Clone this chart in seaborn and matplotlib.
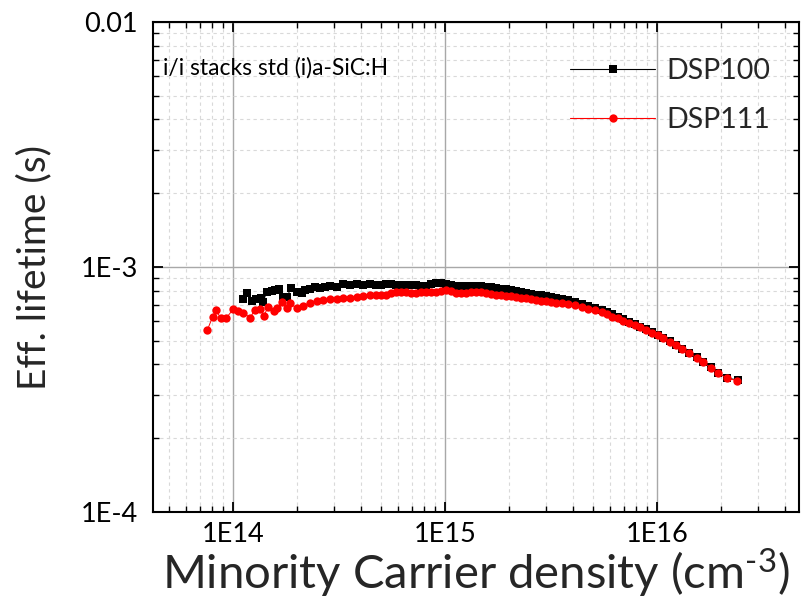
import matplotlib
matplotlib.use("Agg")
import matplotlib.pyplot as plt
import matplotlib.ticker as mticker
import seaborn as sns
import pandas as pd

# Minority carrier density (cm^-3) and effective lifetime (s) for each sample
dsp100_density = [
    1.111e14, 1.168e14, 1.225e14, 1.284e14, 1.351e14, 1.390e14, 1.442e14, 1.522e14,
    1.578e14, 1.648e14, 1.727e14, 1.804e14, 1.871e14, 1.998e14, 2.109e14, 2.186e14,
    2.307e14, 2.437e14, 2.573e14, 2.716e14, 2.868e14, 3.084e14, 3.314e14, 3.564e14,
    3.832e14, 4.118e14, 4.429e14, 4.726e14, 4.990e14, 5.270e14, 5.565e14, 5.875e14,
    6.200e14, 6.550e14, 6.910e14, 7.300e14, 7.710e14, 8.140e14, 8.590e14, 9.070e14,
    9.570e14, 1.011e15, 1.067e15, 1.127e15, 1.190e15, 1.256e15, 1.326e15, 1.400e15,
    1.479e15, 1.561e15, 1.648e15, 1.740e15, 1.837e15, 1.940e15, 2.048e15, 2.162e15,
    2.283e15, 2.410e15, 2.545e15, 2.687e15, 2.837e15, 2.995e15, 3.162e15, 3.339e15,
    3.564e15, 3.804e15, 4.105e15, 4.414e15, 4.742e15, 5.099e15, 5.485e15, 5.790e15,
    6.153e15, 6.568e15, 6.934e15, 7.378e15, 7.875e15, 8.314e15, 8.843e15, 9.441e15,
    1.008e16, 1.071e16, 1.152e16, 1.229e16, 1.316e16, 1.420e16, 1.539e16, 1.653e16,
    1.797e16, 1.946e16, 2.146e16, 2.403e16,
]
dsp100_lifetime = [
    7.40e-4, 7.81e-4, 7.27e-4, 7.40e-4, 7.49e-4, 7.22e-4, 7.93e-4, 7.98e-4,
    8.06e-4, 8.13e-4, 7.57e-4, 7.57e-4, 8.19e-4, 7.93e-4, 7.81e-4, 8.06e-4,
    8.13e-4, 8.26e-4, 8.19e-4, 8.31e-4, 8.39e-4, 8.31e-4, 8.50e-4, 8.44e-4,
    8.50e-4, 8.44e-4, 8.50e-4, 8.41e-4, 8.41e-4, 8.50e-4, 8.52e-4, 8.48e-4,
    8.44e-4, 8.44e-4, 8.42e-4, 8.41e-4, 8.37e-4, 8.37e-4, 8.52e-4, 8.64e-4,
    8.58e-4, 8.50e-4, 8.41e-4, 8.33e-4, 8.33e-4, 8.35e-4, 8.37e-4, 8.38e-4,
    8.35e-4, 8.30e-4, 8.26e-4, 8.21e-4, 8.15e-4, 8.10e-4, 8.03e-4, 7.97e-4,
    7.91e-4, 7.85e-4, 7.79e-4, 7.72e-4, 7.66e-4, 7.59e-4, 7.53e-4, 7.47e-4,
    7.39e-4, 7.30e-4, 7.18e-4, 7.06e-4, 6.94e-4, 6.82e-4, 6.68e-4, 6.55e-4,
    6.40e-4, 6.26e-4, 6.12e-4, 5.98e-4, 5.84e-4, 5.71e-4, 5.57e-4, 5.42e-4,
    5.28e-4, 5.13e-4, 4.97e-4, 4.81e-4, 4.64e-4, 4.46e-4, 4.28e-4, 4.10e-4,
    3.89e-4, 3.69e-4, 3.52e-4, 3.46e-4,
]

dsp111_density = [
    7.57e13, 8.02e13, 8.32e13, 8.75e13, 9.27e13, 1.003e14, 1.059e14, 1.118e14,
    1.203e14, 1.270e14, 1.341e14, 1.400e14, 1.467e14, 1.561e14, 1.618e14, 1.697e14,
    1.792e14, 1.857e14, 1.998e14, 2.146e14, 2.307e14, 2.482e14, 2.667e14, 2.868e14,
    3.084e14, 3.314e14, 3.564e14, 3.832e14, 4.118e14, 4.429e14, 4.726e14, 4.990e14,
    5.270e14, 5.565e14, 5.875e14, 6.200e14, 6.550e14, 6.910e14, 7.300e14, 7.710e14,
    8.140e14, 8.590e14, 9.070e14, 9.570e14, 1.011e15, 1.067e15, 1.127e15, 1.190e15,
    1.256e15, 1.326e15, 1.400e15, 1.479e15, 1.561e15, 1.648e15, 1.740e15, 1.837e15,
    1.940e15, 2.048e15, 2.162e15, 2.283e15, 2.410e15, 2.545e15, 2.687e15, 2.837e15,
    2.995e15, 3.162e15, 3.339e15, 3.564e15, 3.804e15, 4.105e15, 4.414e15, 4.742e15,
    5.099e15, 5.485e15, 5.790e15, 6.153e15, 6.568e15, 6.934e15, 7.378e15, 7.875e15,
    8.314e15, 8.843e15, 9.441e15, 1.008e16, 1.071e16, 1.152e16, 1.229e16, 1.316e16,
    1.420e16, 1.539e16, 1.653e16, 1.797e16, 1.946e16, 2.146e16, 2.376e16,
]
dsp111_lifetime = [
    5.53e-4, 6.27e-4, 6.68e-4, 6.18e-4, 6.18e-4, 6.72e-4, 6.61e-4, 6.51e-4,
    6.21e-4, 6.68e-4, 6.74e-4, 6.33e-4, 6.89e-4, 6.61e-4, 6.78e-4, 7.22e-4,
    6.78e-4, 7.11e-4, 6.78e-4, 6.95e-4, 7.15e-4, 7.27e-4, 7.33e-4, 7.38e-4,
    7.40e-4, 7.49e-4, 7.45e-4, 7.57e-4, 7.64e-4, 7.69e-4, 7.69e-4, 7.66e-4,
    7.70e-4, 7.80e-4, 7.89e-4, 7.93e-4, 7.87e-4, 7.82e-4, 7.85e-4, 7.91e-4,
    7.94e-4, 7.91e-4, 7.89e-4, 7.98e-4, 8.06e-4, 7.98e-4, 7.85e-4, 7.81e-4,
    7.85e-4, 7.91e-4, 7.93e-4, 7.87e-4, 7.80e-4, 7.74e-4, 7.70e-4, 7.67e-4,
    7.64e-4, 7.60e-4, 7.55e-4, 7.49e-4, 7.45e-4, 7.40e-4, 7.35e-4, 7.29e-4,
    7.24e-4, 7.20e-4, 7.16e-4, 7.10e-4, 7.04e-4, 6.97e-4, 6.87e-4, 6.77e-4,
    6.67e-4, 6.53e-4, 6.41e-4, 6.27e-4, 6.18e-4, 6.04e-4, 5.93e-4, 5.80e-4,
    5.67e-4, 5.53e-4, 5.39e-4, 5.28e-4, 5.12e-4, 4.96e-4, 4.80e-4, 4.63e-4,
    4.44e-4, 4.26e-4, 4.08e-4, 3.88e-4, 3.68e-4, 3.51e-4, 3.44e-4,
]

series_labels = ["DSP100", "DSP111"]
x_tick_values = [1e14, 1e15, 1e16]
x_tick_labels = ["1E14", "1E15", "1E16"]
y_tick_values = [1e-4, 1e-3, 1e-2]
y_tick_labels = ["1E-4", "1E-3", "0.01"]
sample_note = "i/i stacks std (i)a-SiC:H"

sns.set_style("white")
plt.rcParams["font.family"] = ["Lato", "DejaVu Sans"]
plt.rcParams["mathtext.fontset"] = "custom"
plt.rcParams["mathtext.rm"] = "Lato"
plt.rcParams["mathtext.it"] = "Lato:italic"

fig = plt.figure(figsize=(8.01, 6.13), dpi=100)
ax = fig.add_axes([153 / 801, 1 - 512 / 613, 646 / 801, 490 / 613])

df100 = pd.DataFrame({"n": dsp100_density, "tau": dsp100_lifetime})
df111 = pd.DataFrame({"n": dsp111_density, "tau": dsp111_lifetime})

sns.lineplot(data=df100, x="n", y="tau", ax=ax, sort=False, color="black",
             linewidth=0.7, marker="s", markersize=5.2, markeredgewidth=0,
             label=series_labels[0], zorder=3)
sns.lineplot(data=df111, x="n", y="tau", ax=ax, sort=False, color="#ff0000",
             linewidth=0.7, marker="o", markersize=6.0, markeredgewidth=0,
             label=series_labels[1], zorder=4)

ax.set_xscale("log")
ax.set_yscale("log")
ax.set_xlim(4.195e13, 4.675e16)
ax.set_ylim(1e-4, 1e-2)

ax.set_xticks(x_tick_values)
ax.set_xticklabels(x_tick_labels)
ax.set_yticks(y_tick_values)
ax.set_yticklabels(y_tick_labels)
ax.xaxis.set_minor_locator(mticker.LogLocator(base=10, subs=range(2, 10), numticks=20))
ax.yaxis.set_minor_locator(mticker.LogLocator(base=10, subs=range(2, 10), numticks=20))
ax.xaxis.set_minor_formatter(mticker.NullFormatter())
ax.yaxis.set_minor_formatter(mticker.NullFormatter())

ax.grid(True, which="major", color="#a8a8a8", linewidth=1.0, linestyle="-")
ax.grid(True, which="minor", color="#d9d9d9", linewidth=0.8, linestyle=(0, (3, 3)))
ax.set_axisbelow(True)

for side in ["left", "bottom", "top", "right"]:
    ax.spines[side].set_visible(True)
    ax.spines[side].set_color("black")
    ax.spines[side].set_linewidth(1.5)

ax.tick_params(which="both", direction="in", top=True, right=True,
               bottom=True, left=True, colors="black")
ax.tick_params(which="major", length=7, width=1.3, labelsize=19.5)
ax.tick_params(which="minor", length=4, width=1.0)
ax.tick_params(axis="x", which="major", pad=7)
ax.tick_params(axis="y", which="major", pad=11)

ax.set_xlabel(r"Minority Carrier density (cm$^{\text{-3}}$)", fontsize=34, labelpad=0)
ax.set_ylabel("Eff. lifetime (s)", fontsize=28, labelpad=20)

ax.text(0.0155, 0.906, sample_note, transform=ax.transAxes, fontsize=16.5,
        ha="left", va="center", color="black")

leg = ax.legend(loc="upper left", bbox_to_anchor=(0.6455, 0.926), frameon=False,
                fontsize=20.5, handlelength=3.0, handletextpad=0.4,
                borderpad=0, borderaxespad=0, labelspacing=0.8)
for h in leg.legend_handles:
    h.set_linewidth(0.8)

fig.savefig("out.png", dpi=100)
